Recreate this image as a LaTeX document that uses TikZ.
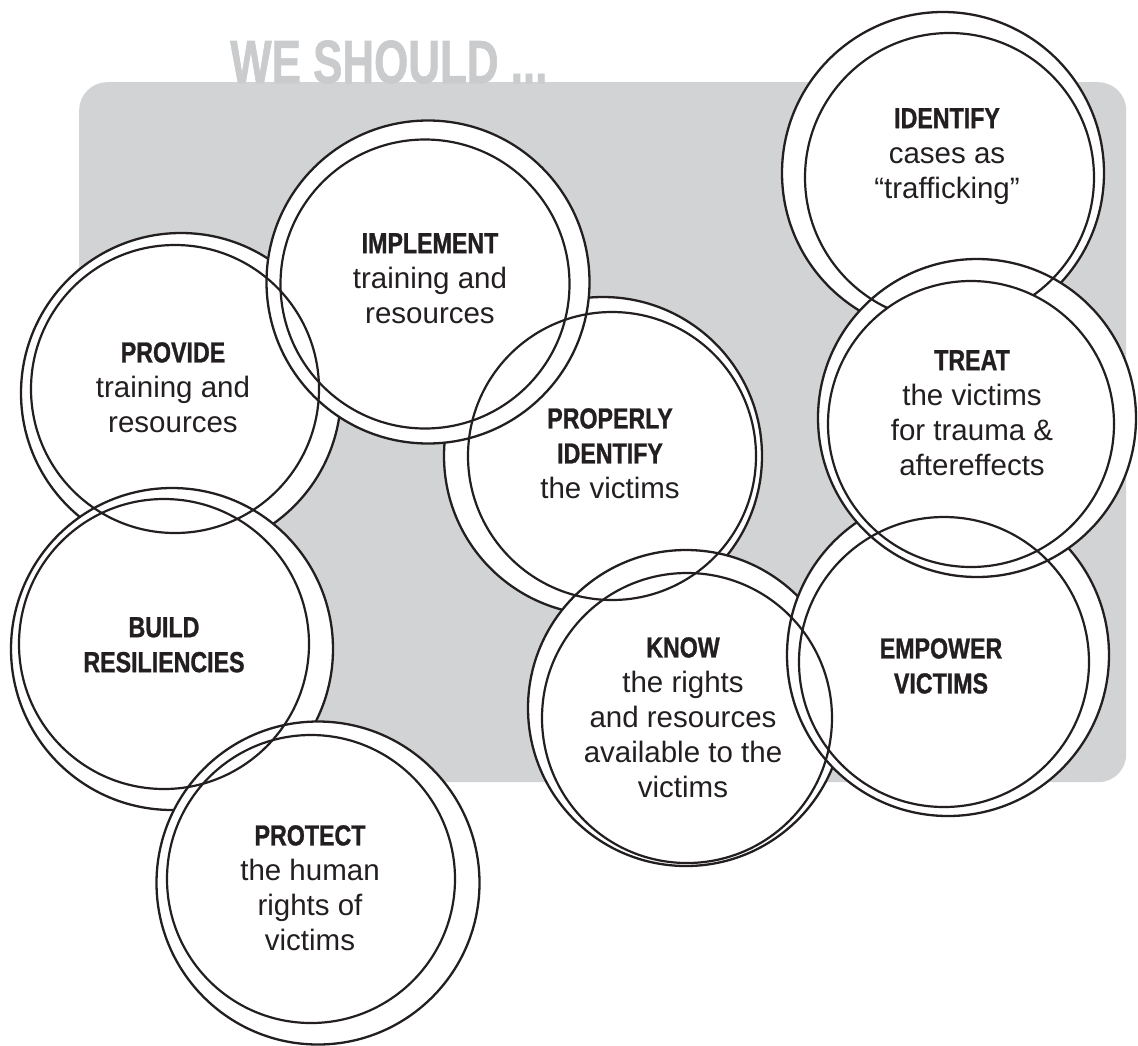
\documentclass[tikz,border=0pt]{standalone}
\usepackage{fontspec}
\setmainfont{Liberation Sans}
\newfontfamily\headfont{Liberation Sans}[FakeStretch=0.8,FakeBold=1]
\newfontfamily\titlefont{Liberation Sans}[FakeStretch=0.72,FakeBold=1]
\definecolor{boxgray}{RGB}{209,211,212}
\definecolor{titlegray}{RGB}{202,203,205}
\definecolor{ink}{RGB}{35,31,32}
\newcommand\hd[1]{{\headfont\bfseries\fontsize{29}{35}\selectfont #1}}
\tikzset{
  ring/.style={circle, draw=ink, line width=2.3pt, fill=white, inner sep=0pt, minimum size=#1},
  hole/.style={circle, draw=ink, line width=2.2pt, inner sep=0pt, minimum size=#1},
  holefill/.style={circle, draw=ink, line width=2.2pt, fill=white, inner sep=0pt, minimum size=#1},
  lbl/.style={align=center, inner sep=0pt, anchor=north, text=ink, font=\fontsize{29.5}{35}\selectfont},
}
\begin{document}
\begin{tikzpicture}[x=1pt,y=-1pt]
\useasboundingbox (0,0) rectangle (1138,1045);
% background panel and title
\node[draw=none, fill=boxgray, rounded corners=28pt, minimum width=1047pt, minimum height=700pt, inner sep=0pt, anchor=north west] (panel) at (79,82) {};
\node[anchor=base west, inner sep=0pt, text=titlegray, font=\titlefont\bfseries\fontsize{61}{61}\selectfont] (title) at (230,83) {WE SHOULD ...};
% outer rings (z-ordered)
\node[ring=320pt] (prvO) at (181,393) {};
\node[ring=318pt] (pplO) at (603,456) {};
\node[ring=322pt] (idnO) at (943,173) {};
\node[ring=316pt] (knwO) at (686,708) {};
\node[ring=323pt] (impO) at (428,282) {};
\node[ring=322pt] (bldO) at (172,649) {};
\node[ring=322pt] (empO) at (948,655) {};
\node[ring=323pt] (prtO) at (318,883) {};
\node[ring=318pt] (trtO) at (977,418) {};
% inner rings
\node[hole=289pt] (idnI) at (949.5,177.5) {};
\node[holefill=286pt] (trtI) at (971,424) {};
\node[hole=288pt] (prvI) at (175,389) {};
\node[hole=289pt] (impI) at (425,284) {};
\node[hole=290pt] (bldI) at (164,644) {};
\node[hole=288pt] (prtI) at (311,879) {};
\node[hole=288pt] (pplI) at (612,456) {};
\node[hole=290pt] (knwI) at (687,718) {};
\node[hole=290pt] (empI) at (944,662) {};
% labels
\node[lbl] (idnT) at (947,108) {\hd{IDENTIFY}\\cases as\\“trafficking”};
\node[lbl] (impT) at (430,233) {\hd{IMPLEMENT}\\training and\\resources};
\node[lbl] (prvT) at (173,342) {\hd{PROVIDE}\\training and\\resources};
\node[lbl] (pplT) at (610,408) {\hd{PROPERLY}\\\hd{IDENTIFY}\\the victims};
\node[lbl] (trtT) at (972,350) {\hd{TREAT}\\the victims\\for trauma \&\\aftereffects};
\node[lbl] (bldT) at (164,617) {\hd{BUILD}\\\hd{RESILIENCIES}};
\node[lbl] (empT) at (941,638) {\hd{EMPOWER}\\\hd{VICTIMS}};
\node[lbl] (knwT) at (683,637) {\hd{KNOW}\\the rights\\and resources\\available to the\\victims};
\node[lbl] (prtT) at (310,825) {\hd{PROTECT}\\the human\\rights of\\victims};
\end{tikzpicture}
\end{document}
